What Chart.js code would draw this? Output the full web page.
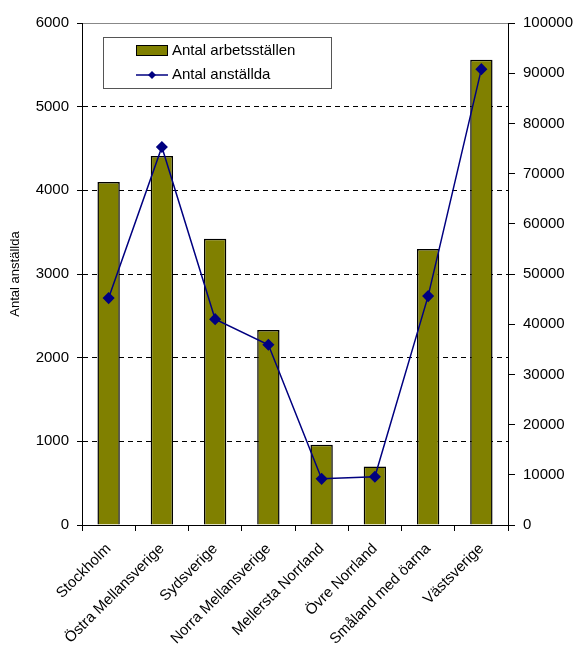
<!DOCTYPE html>
<html>
<head>
<meta charset="utf-8">
<script src="https://cdn.jsdelivr.net/npm/chart.js@4/dist/chart.umd.min.js"></script>
<style>
  html, body { margin: 0; padding: 0; background: #fff; }
  #wrap { width: 576px; height: 646px; position: relative; }
</style>
</head>
<body>
<div id="wrap"><canvas id="chart"></canvas></div>
<script>
// data
const regions = ['Stockholm', 'Östra Mellansverige', 'Sydsverige', 'Norra Mellansverige',
                 'Mellersta Norrland', 'Övre Norrland', 'Småland med öarna', 'Västsverige'];
const arbetsstallen = [4100, 4410, 3420, 2330, 960, 700, 3300, 5560];
const anstallda = [45200, 75300, 41000, 35900, 9200, 9600, 45600, 90800];
const leftTicks = [0, 1000, 2000, 3000, 4000, 5000, 6000];
const rightTicks = [0, 10000, 20000, 30000, 40000, 50000, 60000, 70000, 80000, 90000, 100000];

const FONT = "'Liberation Sans', Arial, sans-serif";

// legend drawn inside the plot area, like the original
const boxLegend = {
    id: 'boxLegend',
    afterDatasetsDraw(chart) {
        const ctx = chart.ctx;
        const x = 103, y = 37, w = 228, h = 51;
        const bars = chart.data.datasets.find(d => d.type === 'bar');
        const line = chart.data.datasets.find(d => d.type === 'line');
        ctx.save();
        ctx.fillStyle = '#fff';
        ctx.fillRect(x, y, w, h);
        ctx.strokeStyle = '#555';
        ctx.lineWidth = 1;
        ctx.strokeRect(x + 0.5, y + 0.5, w, h);
        ctx.font = '15px ' + FONT;
        ctx.textBaseline = 'middle';
        // bar entry
        ctx.fillStyle = bars.backgroundColor;
        ctx.fillRect(136, 45, 31, 10);
        ctx.strokeStyle = '#000';
        ctx.strokeRect(136.5, 45.5, 31, 10);
        ctx.fillStyle = '#000';
        ctx.fillText(bars.label, 172, 51);
        // line entry
        ctx.strokeStyle = line.borderColor;
        ctx.lineWidth = 1.5;
        ctx.beginPath();
        ctx.moveTo(136, 75);
        ctx.lineTo(168, 75);
        ctx.stroke();
        ctx.fillStyle = line.borderColor;
        ctx.beginPath();
        ctx.moveTo(152, 71); ctx.lineTo(156, 75); ctx.lineTo(152, 79); ctx.lineTo(148, 75);
        ctx.closePath();
        ctx.fill();
        ctx.fillStyle = '#000';
        ctx.fillText(line.label, 172, 75);
        ctx.restore();
    }
};

new Chart(document.getElementById('chart'), {
    type: 'bar',
    data: {
        labels: regions,
        datasets: [
            {
                type: 'line',
                label: 'Antal anställda',
                data: anstallda,
                yAxisID: 'y2',
                borderColor: '#000080',
                backgroundColor: '#000080',
                borderWidth: 1.5,
                pointStyle: 'rectRot',
                pointRadius: 5,
                pointBackgroundColor: '#000080',
                pointBorderColor: '#000080',
                tension: 0,
                order: 0
            },
            {
                type: 'bar',
                label: 'Antal arbetsställen',
                data: arbetsstallen,
                yAxisID: 'y',
                backgroundColor: '#808000',
                borderColor: '#000',
                borderWidth: 1.5,
                barPercentage: 0.42,
                categoryPercentage: 1,
                order: 1
            }
        ]
    },
    options: {
        responsive: true,
        maintainAspectRatio: false,
        animation: false,
        layout: { padding: { top: 23, left: 6, right: 0, bottom: 0 } },
        plugins: {
            legend: { display: false },
            tooltip: { enabled: false }
        },
        scales: {
            x: {
                grid: { drawOnChartArea: false, tickLength: 6, tickColor: '#000', offset: true },
                border: { color: '#000', width: 1 },
                ticks: {
                    color: '#000',
                    font: { family: FONT, size: 15 },
                    minRotation: 45,
                    maxRotation: 45,
                    padding: 9,
                    autoSkip: false
                },
                afterFit(s) { s.height = 121; }
            },
            xTop: {
                position: 'top',
                labels: regions,
                grid: { display: false },
                border: { color: '#888', width: 1 },
                ticks: { display: false },
                afterFit(s) { s.height = 0; }
            },
            y: {
                position: 'left',
                min: 0,
                max: 6000,
                afterBuildTicks(s) { s.ticks = leftTicks.map(v => ({ value: v })); },
                grid: {
                    color: c => (c.tick.value > 0 && c.tick.value < 6000) ? '#000' : 'rgba(0,0,0,0)',
                    lineWidth: 1,
                    tickLength: 5,
                    tickColor: '#000'
                },
                border: { color: '#000', width: 1, dash: [5, 4] },
                ticks: {
                    color: '#000',
                    font: { family: FONT, size: 15 },
                    padding: 8,
                    callback: v => String(v)
                },
                title: {
                    display: true,
                    text: 'Antal anställda',
                    color: '#000',
                    font: { family: FONT, size: 13 },
                    padding: { top: 2, bottom: 2 }
                },
                afterFit(s) { s.width = 76; }
            },
            y2: {
                position: 'right',
                min: 0,
                max: 100000,
                afterBuildTicks(s) { s.ticks = rightTicks.map(v => ({ value: v })); },
                grid: { drawOnChartArea: false, tickLength: 7, tickColor: '#000' },
                border: { color: '#000', width: 1 },
                ticks: {
                    color: '#000',
                    font: { family: FONT, size: 15 },
                    padding: 8,
                    callback: v => String(v)
                },
                afterFit(s) { s.width = 68; }
            }
        }
    },
    plugins: [boxLegend]
});
</script>
</body>
</html>
